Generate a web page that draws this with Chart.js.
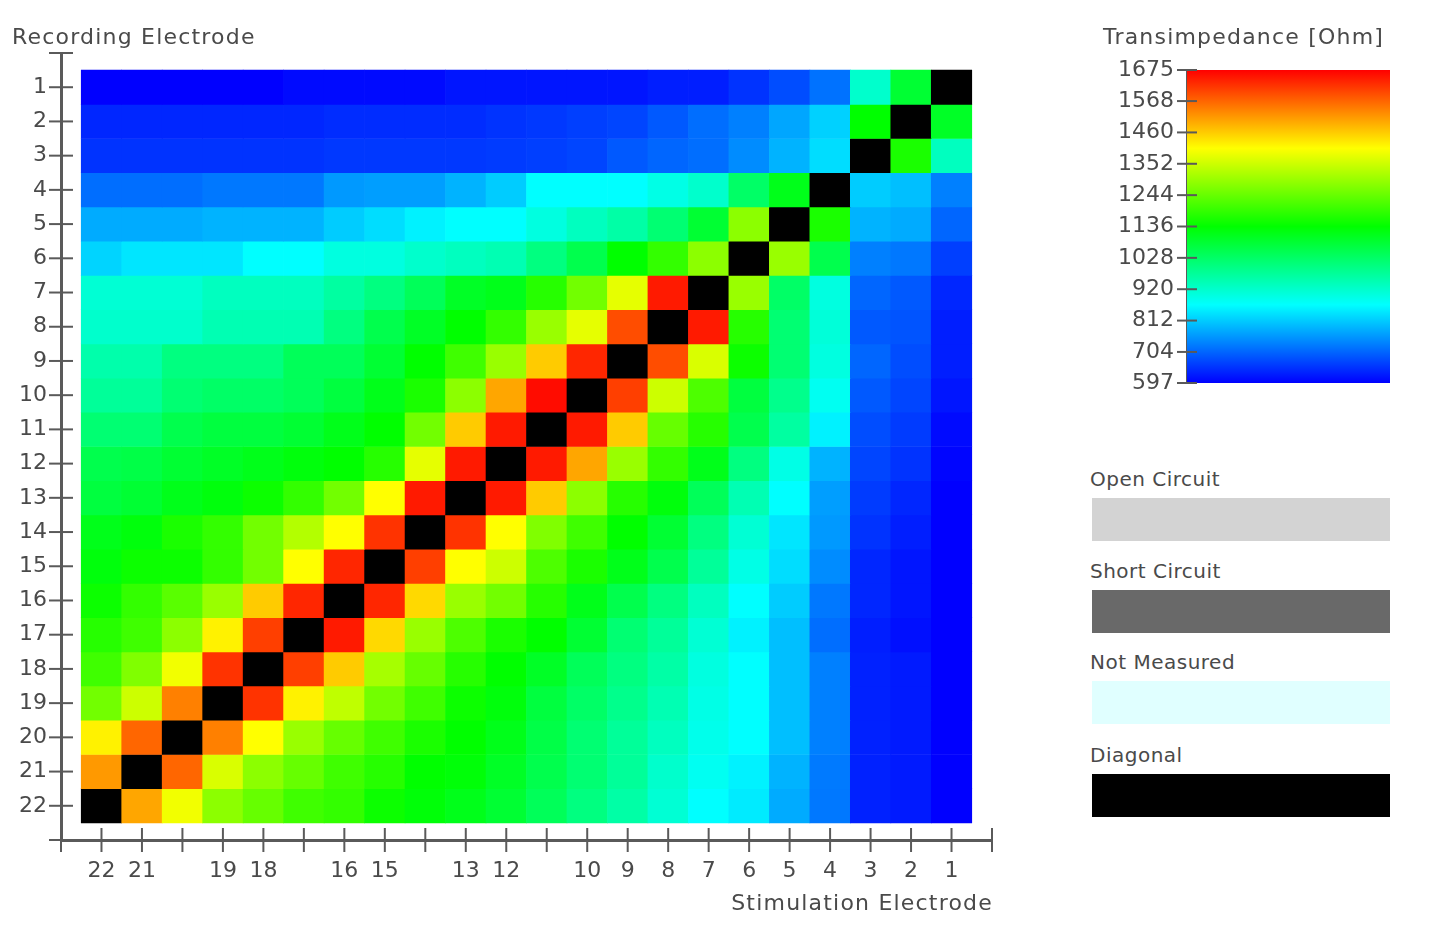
<!DOCTYPE html>
<html>
<head>
<meta charset="utf-8">
<script src="https://cdn.jsdelivr.net/npm/chart.js@4.4.1/dist/chart.umd.min.js"></script>
<style>
  body { margin: 0; background: #fff; width: 1429px; height: 936px; overflow: hidden; position: relative;
         font-family: "DejaVu Sans", sans-serif; color: #4a4a4a; }
  canvas { position: absolute; top: 0; }
  .txt { position: absolute; white-space: nowrap; line-height: 26px; }
  .title { font-size: 22px; letter-spacing: 1.2px; }
  .leg { font-size: 20px; letter-spacing: 0.5px; }
  .box { position: absolute; left: 1092px; width: 298px; height: 43px; }
</style>
</head>
<body>
<canvas id="matrix" width="1010" height="936" style="left:0"></canvas>
<canvas id="colorbar" width="330" height="420" style="left:1090px"></canvas>
<div class="txt title" style="left:12px; top:24px">Recording Electrode</div>
<div class="txt title" style="right:436px; top:890px">Stimulation Electrode</div>
<div class="txt title" style="left:1103px; top:24px">Transimpedance [Ohm]</div>
<div id="legend"></div>
<script>
// stimulation electrodes, left to right
const stimElectrodes = [22, 21, 20, 19, 18, 17, 16, 15, 14, 13, 12, 11, 10, 9, 8, 7, 6, 5, 4, 3, 2, 1];
// recording electrodes, top to bottom
const recElectrodes = [1, 2, 3, 4, 5, 6, 7, 8, 9, 10, 11, 12, 13, 14, 15, 16, 17, 18, 19, 20, 21, 22];
const hiddenStimLabels = [20, 17, 14, 11];
const colorbarTicks = [597, 704, 812, 920, 1028, 1136, 1244, 1352, 1460, 1568, 1675];
const statusLabels = ['Open Circuit', 'Short Circuit', 'Not Measured', 'Diagonal'];
const statusColors = ['#d3d3d3', '#696969', '#e0ffff', '#000000'];

// transimpedance [Ohm], one row per recording electrode, null = diagonal
const transimpedance = [
  [597, 597, 597, 597, 597, 608, 608, 608, 608, 619, 619, 619, 619, 619, 629, 629, 651, 678, 718, 920, 1082, null],
  [637, 637, 637, 637, 637, 637, 643, 643, 643, 643, 651, 656, 664, 670, 691, 713, 732, 772, 818, 1136, null, 1096],
  [651, 651, 651, 651, 651, 651, 656, 656, 656, 656, 659, 664, 670, 691, 705, 713, 745, 786, 831, null, 1163, 934],
  [713, 713, 713, 724, 724, 724, 759, 764, 764, 786, 813, 867, 867, 867, 893, 920, 1028, 1109, null, 813, 799, 732],
  [778, 778, 778, 786, 786, 786, 813, 831, 853, 867, 867, 899, 934, 961, 1015, 1082, 1284, null, 1163, 786, 778, 705],
  [821, 840, 840, 840, 867, 867, 899, 899, 920, 934, 947, 1001, 1055, 1136, 1190, 1284, null, 1298, 1055, 732, 724, 664],
  [912, 912, 912, 934, 934, 934, 966, 1001, 1042, 1096, 1109, 1176, 1257, 1379, 1648, null, 1298, 1028, 899, 705, 691, 637],
  [920, 920, 920, 947, 947, 947, 1001, 1055, 1096, 1136, 1190, 1298, 1379, 1594, null, 1648, 1176, 1015, 907, 691, 686, 629],
  [955, 955, 1001, 1001, 1001, 1042, 1042, 1082, 1136, 1203, 1298, 1460, 1635, null, 1594, 1365, 1149, 1015, 899, 705, 678, 629],
  [974, 974, 1015, 1028, 1028, 1042, 1069, 1109, 1163, 1284, 1500, 1662, null, 1608, 1352, 1217, 1069, 988, 880, 691, 670, 619],
  [1015, 1015, 1055, 1069, 1069, 1082, 1109, 1136, 1257, 1460, 1648, null, 1648, 1460, 1244, 1176, 1055, 966, 853, 678, 659, 608],
  [1055, 1061, 1082, 1096, 1109, 1123, 1136, 1176, 1379, 1648, null, 1648, 1500, 1298, 1190, 1109, 1001, 893, 786, 670, 651, 602],
  [1069, 1082, 1109, 1123, 1149, 1190, 1257, 1406, 1648, null, 1648, 1460, 1284, 1176, 1123, 1042, 947, 867, 764, 659, 637, 597],
  [1109, 1123, 1163, 1190, 1257, 1325, 1406, 1621, null, 1621, 1406, 1271, 1203, 1136, 1082, 1001, 912, 840, 759, 651, 629, 597],
  [1123, 1149, 1149, 1190, 1257, 1406, 1635, null, 1608, 1406, 1352, 1217, 1163, 1109, 1055, 974, 893, 831, 745, 637, 619, 597],
  [1149, 1190, 1230, 1298, 1460, 1635, null, 1635, 1446, 1298, 1257, 1176, 1109, 1055, 1001, 934, 867, 813, 724, 637, 619, 597],
  [1176, 1203, 1284, 1419, 1608, null, 1648, 1446, 1298, 1217, 1163, 1136, 1082, 1015, 974, 912, 853, 799, 713, 629, 613, 597],
  [1203, 1271, 1392, 1621, null, 1608, 1460, 1311, 1244, 1176, 1136, 1096, 1042, 1001, 961, 899, 867, 799, 732, 632, 624, 597],
  [1257, 1352, 1540, null, 1621, 1419, 1338, 1257, 1203, 1149, 1123, 1069, 1028, 988, 947, 893, 867, 799, 732, 632, 624, 597],
  [1419, 1567, null, 1540, 1406, 1298, 1244, 1203, 1163, 1136, 1109, 1061, 1015, 974, 934, 888, 867, 799, 732, 632, 624, 597],
  [1513, null, 1567, 1365, 1284, 1244, 1203, 1176, 1136, 1128, 1096, 1055, 1015, 974, 920, 880, 853, 786, 726, 632, 624, 597],
  [null, 1500, 1392, 1284, 1244, 1203, 1190, 1149, 1128, 1109, 1082, 1042, 1001, 961, 912, 867, 845, 778, 724, 632, 624, 597]
];

const V_MIN = 597, V_MAX = 1675;
const jetStops = [[0, 0, 255], [0, 255, 255], [0, 255, 0], [255, 255, 0], [255, 0, 0]];
const AXIS_COLOR = '#5a5a5a';
const TEXT_COLOR = '#4a4a4a';
const tickFont = { family: 'DejaVu Sans', size: 22 };

function rgb(c) { return 'rgb(' + c.map(Math.round).join(',') + ')'; }

function jet(v) {
  const t = Math.max(0, Math.min(1, (v - V_MIN) / (V_MAX - V_MIN))) * (jetStops.length - 1);
  const k = Math.min(jetStops.length - 2, Math.floor(t));
  const f = t - k;
  const a = jetStops[k], b = jetStops[k + 1];
  return rgb(a.map((x, n) => x + (b[n] - x) * f));
}

function cellColor(raw) {
  return raw.v === null ? statusColors[3] : jet(raw.v);
}

// tick marks that cross the axis line, like the original
const crossTicks = {
  id: 'crossTicks',
  afterDraw(chart) {
    const ctx = chart.ctx;
    const len = chart.options.crossTickLength || 11;
    ctx.save();
    ctx.strokeStyle = AXIS_COLOR;
    ctx.lineWidth = 2;
    const x = chart.scales.x, y = chart.scales.y;
    if (x && x.options.display) {
      x.ticks.forEach(t => {
        const px = x.getPixelForValue(t.value);
        ctx.beginPath(); ctx.moveTo(px, x.top - len); ctx.lineTo(px, x.top + len); ctx.stroke();
      });
    }
    if (y && y.options.display) {
      y.ticks.forEach(t => {
        const py = y.getPixelForValue(t.value);
        ctx.beginPath(); ctx.moveTo(y.right - len, py); ctx.lineTo(y.right + len, py); ctx.stroke();
      });
    }
    ctx.restore();
  }
};

const datasets = recElectrodes.map((rec, i) => ({
  label: 'Recording ' + rec,
  data: stimElectrodes.map((stim, j) => ({ x: stim, y: [rec - 0.5, rec + 0.5], v: transimpedance[i][j] })),
  backgroundColor: ctx => cellColor(ctx.raw),
  borderWidth: 0,
  barPercentage: 1,
  categoryPercentage: 1,
  grouped: false
}));

new Chart(document.getElementById('matrix'), {
  type: 'bar',
  data: { datasets },
  options: {
    responsive: false,
    animation: false,
    events: [],
    crossTickLength: 12,
    layout: { padding: { top: 53, right: 17, left: 0, bottom: 0 } },
    plugins: { legend: { display: false }, tooltip: { enabled: false } },
    scales: {
      x: {
        type: 'linear', min: 0, max: 23, reverse: true, offset: false,
        afterFit: s => { s.height = 96; },
        grid: { drawOnChartArea: false, drawTicks: false, offset: false },
        border: { color: AXIS_COLOR, width: 3 },
        ticks: {
          stepSize: 1, autoSkip: false, maxRotation: 0, padding: 18,
          font: tickFont, color: TEXT_COLOR,
          callback: v => (v < 1 || v > 22 || hiddenStimLabels.includes(v)) ? '' : String(v)
        }
      },
      y: {
        type: 'linear', min: 0, max: 23, reverse: true,
        afterFit: s => { s.width = 61; },
        grid: { drawOnChartArea: false, drawTicks: false },
        border: { color: AXIS_COLOR, width: 3 },
        ticks: {
          stepSize: 1, autoSkip: false, padding: 14,
          font: tickFont, color: TEXT_COLOR,
          callback: v => (v < 1 || v > 22) ? '' : String(v)
        }
      }
    }
  },
  plugins: [crossTicks]
});

new Chart(document.getElementById('colorbar'), {
  type: 'bar',
  data: {
    labels: ['Transimpedance'],
    datasets: [{
      data: [[V_MIN, V_MAX]],
      borderWidth: 0,
      barPercentage: 1,
      categoryPercentage: 1,
      backgroundColor: ctx => {
        const chart = ctx.chart;
        if (!chart.chartArea) return null;
        const ys = chart.scales.y;
        const g = chart.ctx.createLinearGradient(0, ys.getPixelForValue(V_MIN), 0, ys.getPixelForValue(V_MAX));
        jetStops.forEach((c, k) => g.addColorStop(k / (jetStops.length - 1), rgb(c)));
        return g;
      }
    }]
  },
  options: {
    responsive: false,
    animation: false,
    events: [],
    crossTickLength: 10,
    layout: { padding: { top: 70, right: 30, left: 0, bottom: 37 } },
    plugins: { legend: { display: false }, tooltip: { enabled: false } },
    scales: {
      x: { display: false },
      y: {
        min: V_MIN, max: V_MAX,
        afterFit: s => { s.width = 97; },
        afterBuildTicks: s => { s.ticks = colorbarTicks.map(v => ({ value: v })); },
        grid: { drawOnChartArea: false, drawTicks: false },
        border: { color: AXIS_COLOR, width: 2 },
        ticks: { padding: 13, font: tickFont, color: TEXT_COLOR, callback: v => String(v) }
      }
    }
  },
  plugins: [crossTicks]
});

// status legend boxes under the colour bar
const legendTops = [466, 558, 649, 742];
const legend = document.getElementById('legend');
statusLabels.forEach((name, k) => {
  const t = document.createElement('div');
  t.className = 'txt leg';
  t.style.left = '1090px';
  t.style.top = legendTops[k] + 'px';
  t.textContent = name;
  legend.appendChild(t);
  const b = document.createElement('div');
  b.className = 'box';
  b.style.top = (legendTops[k] + 32) + 'px';
  b.style.background = statusColors[k];
  legend.appendChild(b);
});
</script>
</body>
</html>
